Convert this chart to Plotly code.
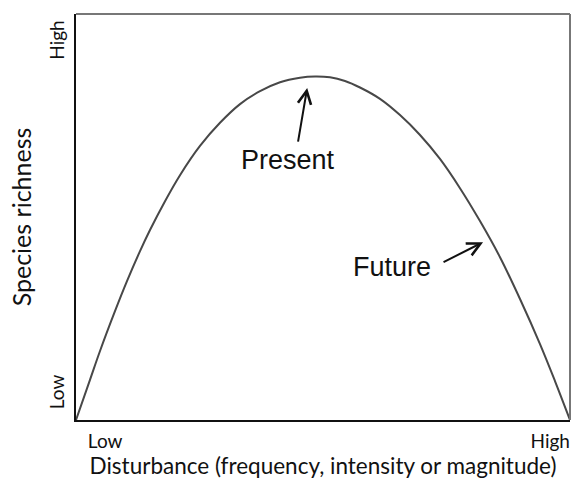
import plotly.graph_objects as go

# Curve (disturbance 0..100, richness 0..100)
disturbance = [0, 2.83, 4.86, 7.89, 10.32, 12.96, 14.98, 18.02, 21.05, 25.10, 29.15, 33.20, 37.25,
               41.30, 45.34, 48.38, 51.42, 54.45, 57.49, 61.54, 65.59, 69.64, 73.68, 77.73, 81.78,
               85.83, 89.88, 93.93, 96.96, 100]
richness = [0, 9.9, 17.0, 26.8, 34.2, 41.6, 46.8, 53.9, 60.3, 67.5, 73.2, 77.8, 81.0,
            83.2, 84.3, 84.6, 84.4, 83.5, 81.9, 79.1, 75.1, 70.2, 64.3, 57.1, 49.0,
            40.1, 29.8, 18.7, 9.6, 0]

x_tick_vals = [5.9, 96.0]
y_tick_vals = [6.2, 92.9]
tick_text = ["Low", "High"]

labels = ["Present", "Future"]
label_x = [42.9, 64.0]
label_y = [64.0, 37.7]
arrow_tail_x = [44.9, 74.1]
arrow_tail_y = [68.2, 38.7]
arrow_head_x = [46.8, 82.4]
arrow_head_y = [81.8, 43.8]

axis_font = "Lato, 'Open Sans', sans-serif"
text_font = "'Liberation Sans', Arial, sans-serif"

fig = go.Figure()
fig.add_trace(go.Scatter(
    x=disturbance, y=richness, mode="lines",
    line=dict(color="#484848", width=2, shape="spline", smoothing=1.0),
    hoverinfo="skip", showlegend=False,
))

annotations = []
for t, tx, ty, ax, ay, hx, hy in zip(labels, label_x, label_y, arrow_tail_x, arrow_tail_y, arrow_head_x, arrow_head_y):
    annotations.append(dict(x=tx, y=ty, xref="x", yref="y", text=t, showarrow=False,
                            font=dict(family=text_font, size=27, color="#111")))
    annotations.append(dict(x=hx, y=hy, ax=ax, ay=ay, xref="x", yref="y", axref="x", ayref="y",
                            text="", showarrow=True, arrowhead=5, arrowsize=1.3, arrowwidth=2,
                            arrowcolor="#111"))

fig.update_layout(
    width=577, height=482,
    margin=dict(l=76, r=7, t=14, b=62),
    paper_bgcolor="white", plot_bgcolor="white",
    annotations=annotations,
    shapes=[
        dict(type="line", xref="paper", yref="paper", x0=0, x1=1, y0=1, y1=1,
             line=dict(color="#777", width=2)),
        dict(type="line", xref="paper", yref="paper", x0=1, x1=1, y0=0, y1=1,
             line=dict(color="#777", width=2)),
    ],
    xaxis=dict(range=[0, 100], showgrid=False, zeroline=False, showline=True,
               linecolor="#111", linewidth=2, ticks="", tickvals=x_tick_vals,
               ticktext=tick_text, ticklabelstandoff=3,
               tickfont=dict(family=axis_font, size=19, color="#111"),
               title=dict(text="Disturbance (frequency, intensity or magnitude)",
                          font=dict(family=axis_font, size=22.5, color="#111"), standoff=6)),
    yaxis=dict(range=[0, 100], showgrid=False, zeroline=False, showline=True,
               linecolor="#111", linewidth=2, ticks="", tickvals=y_tick_vals,
               ticktext=tick_text, tickangle=-90, ticklabelstandoff=2,
               tickfont=dict(family=axis_font, size=19, color="#111"),
               title=dict(text="Species richness",
                          font=dict(family=axis_font, size=25, color="#111"), standoff=7)),
)

fig.write_html("out.html", post_script="document.body.style.margin='0';",
               config={"displayModeBar": False})
